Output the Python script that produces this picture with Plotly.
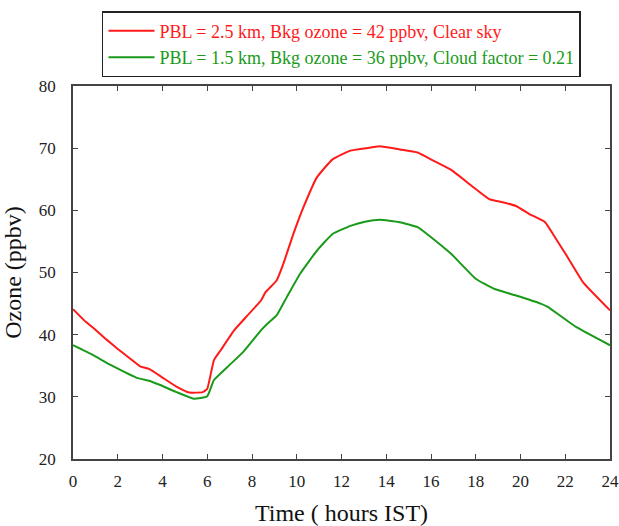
import plotly.graph_objects as go

# Red: PBL = 2.5 km, clear sky
red_hours = [0, 0.5, 1, 1.5, 2, 2.5, 3, 3.4, 4, 4.6, 5.2, 5.8, 6.0, 6.3, 6.6, 7.2, 7.8, 8.4, 8.6, 9.1,
             9.4, 9.85, 10.3, 10.9, 11.6, 12.4, 13.1, 13.7, 14.6, 15.4, 16.1, 16.9, 17.9, 18.6, 19.2,
             19.8, 20.4, 21.1, 21.5, 22.1, 22.8, 24]
red_ozone = [44.1, 42.3, 40.8, 39.2, 37.7, 36.3, 34.9, 34.5, 33.1, 31.7, 30.7, 30.75, 31.3, 35.9, 37.5,
             40.7, 43.1, 45.5, 46.8, 48.7, 51.4, 56.2, 60.5, 65.3, 68.2, 69.6, 70.0, 70.3, 69.8, 69.3,
             68.0, 66.5, 63.7, 61.8, 61.3, 60.7, 59.4, 58.1, 55.9, 52.5, 48.4, 43.9]

# Green: PBL = 1.5 km, cloud factor 0.21
green_hours = [0, 0.9, 1.7, 2.9, 3.4, 3.9, 4.6, 5.4, 6.0, 6.3, 6.9, 7.6, 8.4, 8.7, 9.1, 9.55, 10.15,
               10.9, 11.6, 12.4, 13.1, 13.7, 14.6, 15.4, 16.1, 16.9, 18.0, 18.8, 19.8, 20.9, 21.2,
               22.5, 24]
green_ozone = [38.3, 36.7, 35.1, 33.0, 32.6, 31.9, 30.8, 29.7, 30.1, 32.7, 34.8, 37.2, 40.7, 41.8, 43.1,
               46.0, 49.8, 53.5, 56.2, 57.5, 58.2, 58.5, 58.1, 57.3, 55.4, 53.0, 49.0, 47.4, 46.3,
               45.0, 44.5, 41.2, 38.3]

red_name = "PBL = 2.5 km, Bkg ozone = 42 ppbv, Clear sky"
green_name = "PBL = 1.5 km, Bkg ozone = 36 ppbv, Cloud factor = 0.21"

x_ticks = list(range(0, 25, 2))
y_ticks = list(range(20, 81, 10))

RED = "#ff1a1a"
GREEN = "#1a9a1a"
SERIF = "'Liberation Serif', 'Times New Roman', 'DejaVu Serif', serif"

fig = go.Figure()
fig.add_trace(go.Scatter(x=red_hours, y=red_ozone, mode="lines", line=dict(color=RED, width=2, shape="spline", smoothing=0.4),
                         name=f"<span style='color:{RED}'>{red_name}</span>"))
fig.add_trace(go.Scatter(x=green_hours, y=green_ozone, mode="lines", line=dict(color=GREEN, width=2, shape="spline", smoothing=0.4),
                         name=f"<span style='color:{GREEN}'>{green_name}</span>"))

axis_common = dict(showline=True, linecolor="#444", linewidth=1.5, mirror="allticks", ticks="inside",
                   ticklen=5, tickwidth=1.2, tickcolor="#444", showgrid=False, zeroline=False,
                   automargin=False,
                   tickfont=dict(family=SERIF, size=17, color="#222"))

fig.update_xaxes(range=[0, 24], tickvals=x_ticks, ticktext=[str(v) for v in x_ticks],
                 title=dict(text="Time ( hours IST)", font=dict(family=SERIF, size=24, color="#111"), standoff=16),
                 ticklabelstandoff=6, **axis_common)
fig.update_yaxes(range=[20, 80], tickvals=y_ticks, ticktext=[str(v) for v in y_ticks],
                 title=dict(text="Ozone (ppbv)", font=dict(family=SERIF, size=24, color="#111"), standoff=10),
                 ticklabelstandoff=12, **axis_common)

fig.update_layout(
    width=619, height=526,
    margin=dict(l=73, r=9, t=86, b=67),
    paper_bgcolor="white", plot_bgcolor="white",
    font=dict(family=SERIF, size=18, color="#222"),
    legend=dict(x=0.054, y=1.201, xanchor="left", yanchor="top", bordercolor="#222", borderwidth=1.5,
                bgcolor="white", font=dict(family=SERIF, size=18), tracegroupgap=0,
                itemwidth=46),
    showlegend=True,
)

fig.write_html("out.html")
